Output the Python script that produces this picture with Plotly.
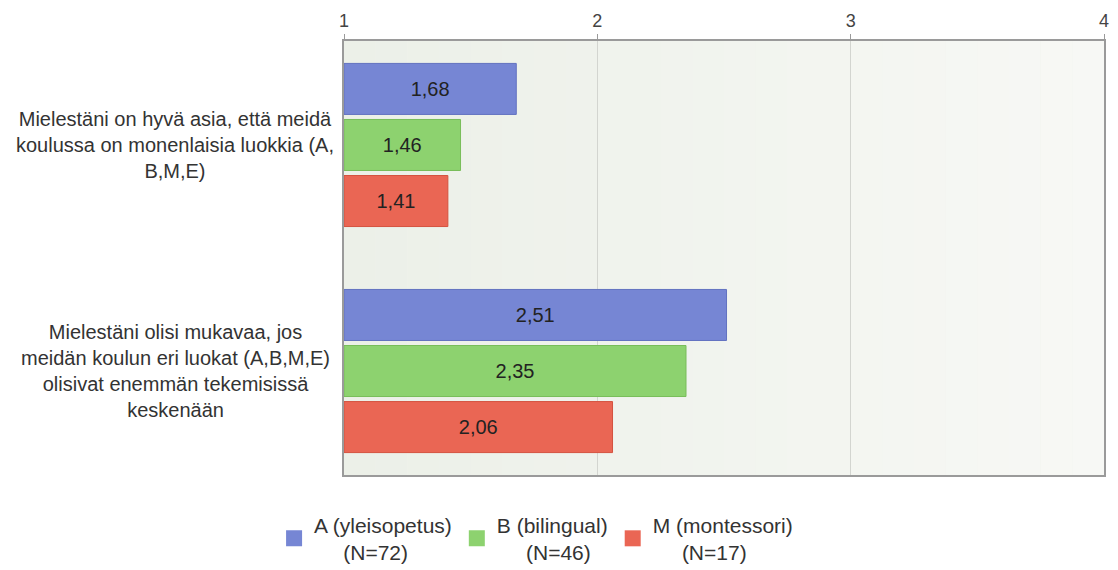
import plotly.graph_objects as go

# Survey statements (one group of bars each)
categories = [
    "Mielestäni on hyvä asia, että meidä<br>koulussa on monenlaisia luokkia (A,<br>B,M,E)",
    "Mielestäni olisi mukavaa, jos<br>meidän koulun eri luokat (A,B,M,E)<br>olisivat enemmän tekemisissä<br>keskenään",
]

# Class groups and their mean answers
series_names = ["A (yleisopetus)", "B (bilingual)", "M (montessori)"]
series_n = ["(N=72)", "(N=46)", "(N=17)"]
values_a = [1.68, 2.51]
values_b = [1.46, 2.35]
values_m = [1.41, 2.06]

x_ticks = [1, 2, 3, 4]

colors = ["#7686d4", "#8dd26f", "#ea6654"]
edge_colors = ["#6272c0", "#78bd5a", "#d4523f"]
FONT = "Liberation Sans, Arial, sans-serif"

fig = go.Figure()
cat_pos = list(range(len(categories)))
for name, vals, col, edge in zip(series_names, [values_a, values_b, values_m], colors, edge_colors):
    fig.add_trace(go.Bar(
        x=[v - x_ticks[0] for v in vals],
        base=x_ticks[0],
        y=cat_pos,
        orientation="h",
        name=name,
        marker=dict(color=col, line=dict(color=edge, width=1)),
        text=[f"{v:.2f}".replace(".", ",") for v in vals],
        textposition="inside",
        insidetextanchor="middle",
        textfont=dict(family=FONT, size=20, color="#222222"),
        showlegend=False,
        hoverinfo="skip",
    ))

# Legend entries with larger square swatches
pad = "\u00a0" * 5
for name, n, col in zip(series_names, series_n, colors):
    fig.add_trace(go.Scatter(
        x=[None], y=[None], mode="markers",
        marker=dict(symbol="square", size=16, color=col),
        name=f"{name}<br>{pad}{n}",
        showlegend=True,
    ))

# Soft horizontal gradient in the plotting area
steps = 24
c0 = (236, 240, 232)
c1 = (247, 248, 245)
span = x_ticks[-1] - x_ticks[0]
for i in range(steps):
    t = i / (steps - 1)
    r, g, b = (round(a + (bb - a) * t) for a, bb in zip(c0, c1))
    fig.add_shape(
        type="rect", xref="x", yref="paper",
        x0=x_ticks[0] + span * i / steps, x1=x_ticks[0] + span * (i + 1) / steps,
        y0=0, y1=1, fillcolor=f"rgb({r},{g},{b})", line=dict(width=0), layer="below",
    )

# Statement labels, centred to the left of the plot
for i, cat in enumerate(categories):
    fig.add_annotation(
        x=-0.222, xref="paper", y=i, yref="y", text=cat, showarrow=False,
        xanchor="center", yanchor="middle", align="center",
        font=dict(family=FONT, size=20, color="#333333"),
    )

fig.update_layout(
    width=1118, height=570,
    margin=dict(l=344, r=14, t=41, b=95, autoexpand=False),
    paper_bgcolor="white", plot_bgcolor="#f1f3ee",
    barmode="group", bargap=0.256, bargroupgap=0.09,
    separators=", ",
    font=dict(family=FONT, size=18, color="#444444"),
    legend=dict(
        orientation="h", x=-0.092, xanchor="left", y=-0.068, yanchor="top",
        font=dict(family=FONT, size=21, color="#333333"),
        valign="middle", itemclick=False, bgcolor="rgba(0,0,0,0)",
    ),
)
fig.update_xaxes(
    side="top", range=[x_ticks[0], x_ticks[-1]], tickvals=x_ticks,
    ticktext=[str(t) for t in x_ticks],
    showgrid=True, gridcolor="#d3d5d0", gridwidth=1,
    showline=True, linecolor="#9a9a9a", linewidth=2, mirror=True,
    ticks="outside", ticklen=5, tickcolor="#9a9a9a",
    tickfont=dict(family=FONT, size=18, color="#444444"),
    zeroline=False,
)
fig.update_yaxes(
    range=[len(categories) - 1 + 0.46, -0.46], showticklabels=False,
    showgrid=False, zeroline=False,
    showline=True, linecolor="#9a9a9a", linewidth=2, mirror=True,
)

fig.write_html("out.html")
